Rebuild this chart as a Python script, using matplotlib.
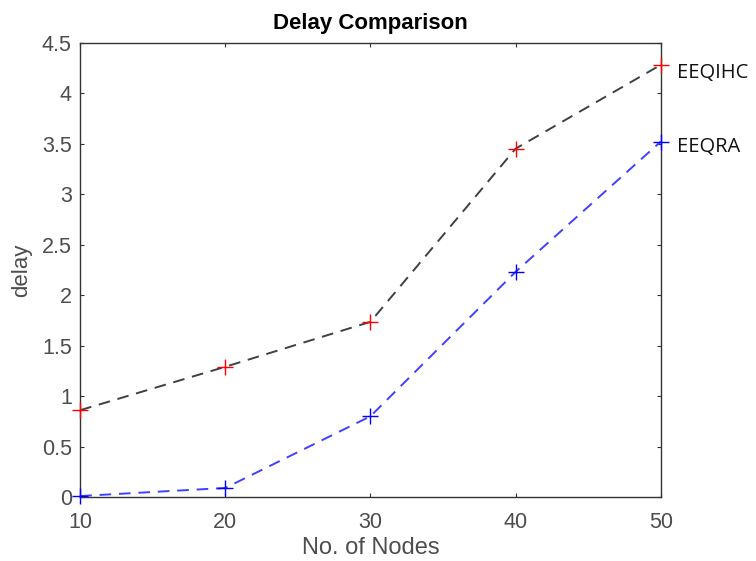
import matplotlib.pyplot as plt

NODES = [10, 20, 30, 40, 50]
EEQIHC = [0.86, 1.29, 1.735, 3.45, 4.28]
EEQRA = [0.01, 0.09, 0.80, 2.23, 3.52]
SERIES_NAMES = ["EEQIHC", "EEQRA"]

TICK_GRAY = "#4d4d4d"


def main():
    plt.rcParams["font.family"] = ["Liberation Sans", "DejaVu Sans"]

    fig = plt.figure(figsize=(7.56, 5.61), dpi=100)
    ax = fig.add_axes([0.106, 0.114, 0.768, 0.810])

    ax.plot(NODES, EEQIHC, color="#404040", linestyle=(0, (6, 4)), linewidth=1.4,
            marker="+", markersize=11, markeredgecolor="red", markeredgewidth=1.0,
            clip_on=False, zorder=3)
    ax.plot(NODES, EEQRA, color="#4040ff", linestyle=(0, (6, 4)), linewidth=1.4,
            marker="+", markersize=11, markeredgecolor="blue", markeredgewidth=1.0,
            clip_on=False, zorder=3)

    # series names placed at the end of each line, outside the axes
    for name, values, dy in zip(SERIES_NAMES, [EEQIHC, EEQRA], [-6, -4]):
        ax.annotate(name, xy=(NODES[-1], values[-1]), xytext=(12, dy),
                    textcoords="offset points", fontsize=14.5, color="#111111",
                    family=["Open Sans", "DejaVu Sans"], annotation_clip=False,
                    va="center", ha="left")

    ax.set_xlim(10, 50)
    ax.set_ylim(0, 4.5)
    ax.set_xticks(NODES)
    ax.set_yticks([0, 0.5, 1, 1.5, 2, 2.5, 3, 3.5, 4, 4.5])
    ax.set_yticklabels(["0", "0.5", "1", "1.5", "2", "2.5", "3", "3.5", "4", "4.5"])

    ax.tick_params(direction="in", top=True, right=True, length=3, width=0.8,
                   labelsize=15.5, labelcolor=TICK_GRAY, color="#333333", pad=6)
    ax.tick_params(axis="x", pad=11)
    for spine in ax.spines.values():
        spine.set_color("#333333")
        spine.set_linewidth(1.0)

    ax.set_xlabel("No. of Nodes", fontsize=17, color=TICK_GRAY, labelpad=3)
    ax.set_ylabel("delay", fontsize=16, color=TICK_GRAY, labelpad=7)
    ax.set_title("Delay Comparison", fontsize=16, fontweight="bold", pad=9.5)

    fig.savefig("out.png", dpi=100)


if __name__ == "__main__":
    main()
